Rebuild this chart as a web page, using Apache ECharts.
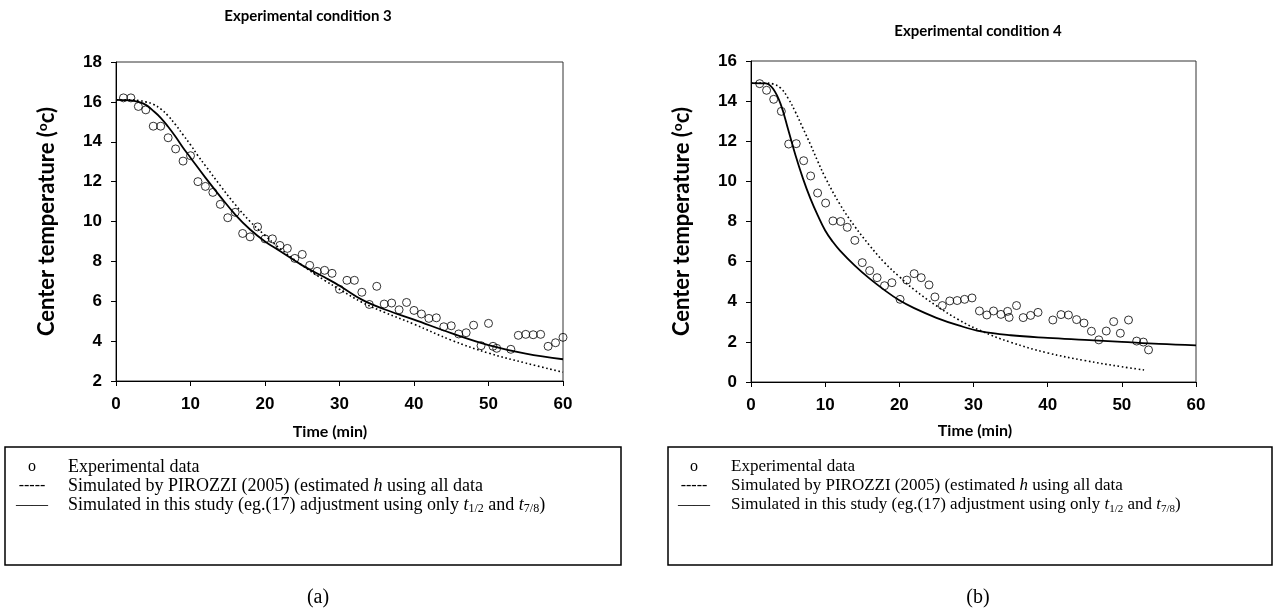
<!DOCTYPE html>
<html><head><meta charset="utf-8">
<script src="https://cdn.jsdelivr.net/npm/echarts@6/dist/echarts.min.js"></script>
<style>html,body{margin:0;padding:0;background:#fff;}#c{width:1277px;height:616px;}</style>
</head><body><div id="c"></div>
<script>
// ---- Data (a): Experimental condition 3 ----
var expTimeA = [1,2,3,4,5,6,7,8,9,10,11,12,13,14,15,16,17,18,19,20,21,22,23,24,25,26,27,28,29,30,31,32,33,34,35,36,37,38,39,40,41,42,43,44,45,46,47,48,49,50,50.6,51.1,53,54,55,56,57,58,59,60];
var expTempA = [16.2,16.2,15.77,15.6,14.78,14.78,14.2,13.64,13.03,13.3,12.0,11.76,11.46,10.86,10.19,10.46,9.4,9.23,9.73,9.13,9.13,8.8,8.65,8.15,8.35,7.8,7.5,7.55,7.4,6.6,7.05,7.05,6.45,5.84,6.75,5.86,5.91,5.57,5.94,5.54,5.36,5.14,5.17,4.72,4.77,4.36,4.42,4.8,3.77,4.89,3.74,3.64,3.59,4.29,4.34,4.32,4.34,3.74,3.92,4.19];
var pirTimeA = [0,2,3,4,5,6,7,8,9,10,11,12,14,16,18,20,22,25,28,30,33,36,40,45,50,55,60];
var pirTempA = [16.1,16.1,16.07,16.0,15.88,15.65,15.3,14.85,14.35,13.85,13.3,12.8,11.8,10.85,10.0,9.3,8.65,7.8,7.05,6.6,5.95,5.45,4.85,4.05,3.4,2.9,2.44];
var simTimeA = [0,2,3,4,5,6,7,8,9,10,12,14,16,18,20,22,25,28,30,33,36,40,45,50,55,60];
var simTempA = [16.1,16.08,16.0,15.85,15.55,15.2,14.75,14.25,13.7,13.2,12.2,11.25,10.35,9.6,9.0,8.52,7.8,7.2,6.78,6.08,5.6,5.08,4.4,3.8,3.37,3.09];

// ---- Data (b): Experimental condition 4 ----
var expTimeB = [1.17,2.1,3.06,4.09,5.08,6.1,7.1,8.04,8.98,10.06,11.05,12.09,12.98,14,15,16,17,18,19,20.1,21,22,22.95,24,24.8,25.8,26.8,27.8,28.8,29.8,30.8,31.8,32.7,33.7,34.6,34.8,35.8,36.7,37.7,38.7,40.7,41.8,42.8,43.9,44.9,45.9,46.9,47.9,48.9,49.8,50.9,52,52.9,53.6];
var expTempB = [14.87,14.54,14.09,13.49,11.86,11.88,11.03,10.27,9.42,8.92,8.03,8.0,7.71,7.06,5.95,5.55,5.2,4.8,4.95,4.12,5.08,5.4,5.2,4.84,4.24,3.81,4.04,4.06,4.12,4.19,3.54,3.34,3.54,3.37,3.52,3.22,3.81,3.21,3.32,3.47,3.09,3.36,3.34,3.11,2.94,2.53,2.1,2.54,3.01,2.43,3.09,2.04,1.99,1.6];
var pirTimeB = [0,2,3,4,5,6,7,8,9,10,12,14,16,18,20,22,25,28,31,35,40,45,50,53];
var pirTempB = [14.9,14.9,14.85,14.65,14.15,13.45,12.65,11.85,11.0,10.2,8.85,7.75,6.8,5.95,5.25,4.6,3.8,3.1,2.55,1.98,1.45,1.07,0.76,0.6];
var simTimeB = [0,2,3,4,5,6,7,8,9,10,11,12,14,16,18,20,22,25,28,31,35,40,45,50,55,60];
var simTempB = [14.9,14.88,14.6,13.85,12.6,11.3,10.15,9.15,8.3,7.55,7.0,6.55,5.8,5.15,4.58,4.07,3.68,3.2,2.82,2.52,2.33,2.2,2.1,2.0,1.9,1.83];

var xTicks = [0,10,20,30,40,50,60];
var yRangeA = [2,18];
var yRangeB = [0,16];

function pairs(xs, ys){ return xs.map(function(x,i){ return [x, ys[i]]; }); }

var chart = echarts.init(document.getElementById('c'), null, {renderer:'canvas'});
var tickFont = {fontFamily:'Liberation Sans, Arial', fontWeight:'bold', fontSize:17, color:'#000'};
function xAx(gi){
  return {gridIndex:gi, type:'value', min:xTicks[0], max:xTicks[xTicks.length-1], interval:10,
    axisLine:{show:true, onZero:false, lineStyle:{color:'#000', width:1}},
    axisTick:{show:true, length:5, lineStyle:{color:'#000'}},
    axisLabel:Object.assign({margin:15}, tickFont), splitLine:{show:false}};
}
function yAx(gi, r){
  return {gridIndex:gi, type:'value', min:r[0], max:r[1], interval:2,
    axisLine:{show:true, onZero:false, lineStyle:{color:'#000', width:1}},
    axisTick:{show:true, length:5, lineStyle:{color:'#000'}},
    axisLabel:Object.assign({margin:14}, tickFont), splitLine:{show:false},
    name:'{n|Center temperature (}{s|o}{n|c)}', nameLocation:'middle', nameRotate:90, nameGap:57,
    nameTextStyle:{rich:{
      n:{fontFamily:'Lato', fontWeight:'bold', fontSize:22, color:'#000', lineHeight:24},
      s:{fontFamily:'Lato', fontWeight:'bold', fontSize:14, color:'#000', verticalAlign:'top', lineHeight:15}
    }}};
}
function scat(gi, xs, ys){
  return {type:'scatter', xAxisIndex:gi, yAxisIndex:gi, data:pairs(xs,ys), symbol:'circle', symbolSize:8,
    itemStyle:{color:'rgba(255,255,255,0)', borderColor:'#000', borderWidth:1}, z:5, silent:true};
}
function line(gi, xs, ys, dotted){
  return {type:'line', xAxisIndex:gi, yAxisIndex:gi, data:pairs(xs,ys), showSymbol:false, smooth:0.4,
    lineStyle:{color:'#000', width: dotted?1.6:1.8, type: dotted?[1.6,2.6]:'solid'}, z:3, silent:true};
}

function mkRich(fs){
  return {
    t:{fontFamily:'Liberation Serif', fontSize:fs, color:'#000', lineHeight:19},
    i:{fontFamily:'Liberation Serif', fontSize:fs, fontStyle:'italic', color:'#000', lineHeight:19},
    sub:{fontFamily:'Liberation Serif', fontSize:Math.round(fs*0.65), color:'#000', lineHeight:9, verticalAlign:'bottom'}
  };
}
function legendGroup(x0, y0, w, h, markX, textX, fs){
  var rich = mkRich(fs);
  var lines = [
    ['o', '{t|Experimental data}'],
    ['-----', '{t|Simulated by PIROZZI (2005) (estimated }{i|h}{t| using all data}'],
    ['——', '{t|Simulated in this study (eg.(17) adjustment using only }{i|t}{sub|1/2}{t| and }{i|t}{sub|7/8}{t|)}']
  ];
  var els = [{type:'rect', shape:{x:x0, y:y0, width:w, height:h}, style:{fill:'none', stroke:'#000', lineWidth:1.5}}];
  lines.forEach(function(l, k){
    var cy = y0 + 20 + k*19;
    els.push({type:'text', x:markX, y:cy, style:{text:l[0], font:'16px "Liberation Serif"', fill:'#000', align:'center', verticalAlign:'middle'}});
    els.push({type:'text', x:textX, y:cy, style:{text:l[1], rich:rich, align:'left', verticalAlign:'middle'}});
  });
  return els;
}

var graphics = [
  {type:'text', x:308, y:16, style:{text:'Experimental condition 3', font:'bold 15px Lato', fill:'#000', align:'center', verticalAlign:'middle'}},
  {type:'text', x:978, y:31, style:{text:'Experimental condition 4', font:'bold 15px Lato', fill:'#000', align:'center', verticalAlign:'middle'}},
  {type:'text', x:330, y:432, style:{text:'Time (min)', font:'bold 16px Lato', fill:'#000', align:'center', verticalAlign:'middle'}},
  {type:'text', x:975, y:431, style:{text:'Time (min)', font:'bold 16px Lato', fill:'#000', align:'center', verticalAlign:'middle'}},
  {type:'text', x:318, y:598, style:{text:'(a)', font:'20px "Liberation Serif"', fill:'#000', align:'center', verticalAlign:'middle'}},
  {type:'text', x:978, y:598, style:{text:'(b)', font:'20px "Liberation Serif"', fill:'#000', align:'center', verticalAlign:'middle'}}
].concat(legendGroup(5, 447, 616, 118, 32, 68, 18))
 .concat(legendGroup(668, 447, 604, 118, 694, 731, 17));

chart.setOption({
  animation:false,
  backgroundColor:'#fff',
  grid:[
    {left:116, top:62, width:447, height:319, show:true, borderColor:'#333', borderWidth:1, backgroundColor:'rgba(0,0,0,0)'},
    {left:751, top:61, width:445, height:321, show:true, borderColor:'#333', borderWidth:1, backgroundColor:'rgba(0,0,0,0)'}
  ],
  xAxis:[xAx(0), xAx(1)],
  yAxis:[yAx(0, yRangeA), yAx(1, yRangeB)],
  series:[
    line(0, pirTimeA, pirTempA, true), line(0, simTimeA, simTempA, false), scat(0, expTimeA, expTempA),
    line(1, pirTimeB, pirTempB, true), line(1, simTimeB, simTempB, false), scat(1, expTimeB, expTempB)
  ],
  graphic:graphics
});
</script></body></html>
